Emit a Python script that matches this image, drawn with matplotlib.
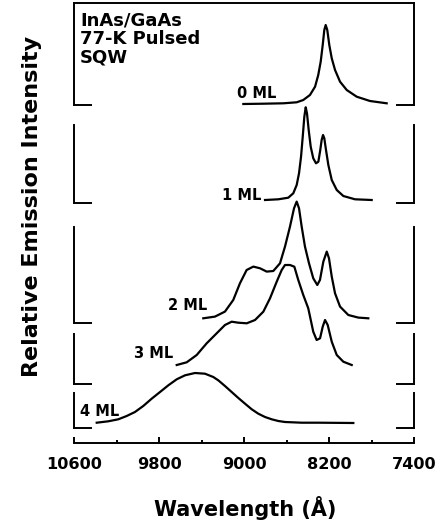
import matplotlib.pyplot as plt

# spectra: wavelength (Å) and relative intensity (arb. units)
wl_0ml = [9009, 8821, 8633, 8507, 8445, 8382, 8334, 8304, 8281, 8262, 8247,
          8234, 8219, 8200, 8177, 8146, 8099, 8036, 7942, 7817, 7660]
int_0ml = [0, 0.3, 0.7, 1.7, 4, 9, 17.3, 29, 42.3, 59, 74,
           79, 74, 59, 45.7, 34, 22.3, 14, 7.3, 3, 0.7]

wl_1ml = [8805, 8680, 8586, 8539, 8507, 8485, 8466, 8450, 8435, 8422, 8410,
          8394, 8375, 8351, 8325, 8303, 8285, 8272, 8259, 8247, 8231, 8209,
          8177, 8130, 8068, 7958, 7801]
int_1ml = [0, 0.7, 2.3, 6.7, 15, 26.7, 43.3, 63.3, 83.3, 92.7, 86.7,
           70, 53.3, 41.7, 36.7, 38.3, 50, 60, 65, 61.7, 50, 35,
           20, 10, 4, 0.7, 0]

wl_2ml = [9386, 9276, 9182, 9104, 9041, 8978, 8915, 8852, 8789, 8727, 8664,
          8617, 8570, 8532, 8507, 8485, 8460, 8429, 8391, 8351, 8313, 8288,
          8256, 8224, 8203, 8177, 8146, 8099, 8021, 7927, 7833]
int_2ml = [0, 1.7, 6.7, 18.3, 35, 48.3, 51.7, 50, 46.7, 47.3, 55,
           71.7, 91.7, 110, 116.7, 110, 91.7, 71.7, 55, 40, 33.3, 38.3,
           56.7, 66.7, 60, 41.7, 25, 11.7, 3.3, 0.7, 0]

wl_3ml = [9636, 9542, 9448, 9354, 9260, 9182, 9119, 9056, 8977, 8899, 8821,
          8758, 8695, 8648, 8617, 8570, 8529, 8492, 8445, 8398, 8351, 8319,
          8287, 8262, 8240, 8215, 8177, 8130, 8068, 7989]
int_3ml = [0, 2.7, 10, 21.7, 31.7, 40, 43.3, 42.3, 41.7, 45, 53.3,
           66.7, 83.3, 95, 100, 100, 98.3, 85, 70, 56.7, 33.3, 25,
           26.7, 38.3, 45, 40, 23.3, 10, 3.3, 0]

wl_4ml = [10389, 10280, 10186, 10107, 10029, 9951, 9872, 9793, 9715, 9636,
          9558, 9464, 9370, 9292, 9245, 9182, 9119, 9056, 8993, 8930, 8868,
          8805, 8742, 8680, 8617, 8460, 8304, 7974]
int_4ml = [0.3, 1.7, 3.7, 7, 11, 17, 24.3, 31, 37.7, 43.7,
           47.7, 50, 49.3, 46, 42.7, 37, 31, 25, 19.3, 13.7, 9.3,
           6, 3.7, 2, 1, 0.3, 0.3, 0]

labels = ['0 ML', '1 ML', '2 ML', '3 ML', '4 ML']
label_wl = [8880, 9026, 9530, 9850, 10358]
label_y = [10, 5, 13, 11, 12]

x_major = [10600, 9800, 9000, 8200, 7400]
x_minor = [10200, 9400, 8600, 7800]

spectra = [(wl_0ml, int_0ml), (wl_1ml, int_1ml), (wl_2ml, int_2ml),
           (wl_3ml, int_3ml), (wl_4ml, int_4ml)]

# panel layout, pixels from top of figure: (top, bottom, baseline)
panels = [(3.3, 105, 104), (125, 203.3, 200), (226.7, 322.7, 318.3),
          (334, 384, 365), (393, 427.7, 423)]

plt.rcParams['font.family'] = 'DejaVu Sans'
plt.rcParams['font.weight'] = 'bold'

W, H = 440, 529
fig = plt.figure(figsize=(W / 100, H / 100), dpi=100)
x0 = 74.3 / W
wid = 340 / W
lw = 1.4

for i, ((wl, inten), (top, bot, base)) in enumerate(zip(spectra, panels)):
    ax = fig.add_axes([x0, 1 - bot / H, wid, (bot - top) / H])
    ax.set_facecolor('none')
    ax.set_xlim(10600, 7400)
    ax.set_ylim(-(bot - base), base - top)
    ax.set_xticks([])
    ax.set_yticks([])
    ax.spines['bottom'].set_visible(False)
    ax.spines['top'].set_visible(i == 0)
    for s in ax.spines.values():
        s.set_linewidth(lw)
    # short feet of the brackets
    ax.plot([0, 0.05], [0, 0], transform=ax.transAxes, color='black',
            lw=lw, solid_capstyle='projecting', clip_on=False)
    ax.plot([0.95, 1], [0, 0], transform=ax.transAxes, color='black',
            lw=lw, solid_capstyle='projecting', clip_on=False)
    ax.plot(wl, inten, color='black', lw=1.6, clip_on=False,
            solid_joinstyle='round', zorder=3)
    ax.text(label_wl[i], label_y[i], labels[i], ha='center', va='center',
            fontsize=10.5, fontweight='bold')
    if i == 0:
        ax.text(0.017, 0.92, 'InAs/GaAs\n77-K Pulsed\nSQW',
                transform=ax.transAxes, ha='left', va='top',
                fontsize=13, fontweight='bold', linespacing=1.05)

# wavelength axis
axx = fig.add_axes([x0, 1 - 443 / H, wid, 0.02])
axx.set_facecolor('none')
axx.set_xlim(10600, 7400)
axx.set_yticks([])
for s in ['left', 'right', 'top']:
    axx.spines[s].set_visible(False)
axx.spines['bottom'].set_linewidth(lw)
axx.set_xticks(x_major)
axx.set_xticks(x_minor, minor=True)
axx.set_xticklabels([str(v) for v in x_major], fontsize=11.6, fontweight='bold')
axx.tick_params(axis='x', which='major', direction='in', length=4, width=lw, pad=10)
axx.tick_params(axis='x', which='minor', direction='in', length=2.5, width=lw)

fig.text(245 / W, 1 - 508 / H, 'Wavelength (Å)', ha='center', va='center',
         fontsize=15, fontweight='bold')
fig.text(32 / W, 1 - 206 / H, 'Relative Emission Intensity', rotation=90,
         ha='center', va='center', fontsize=16, fontweight='bold')

fig.savefig('out.png', dpi=100)
